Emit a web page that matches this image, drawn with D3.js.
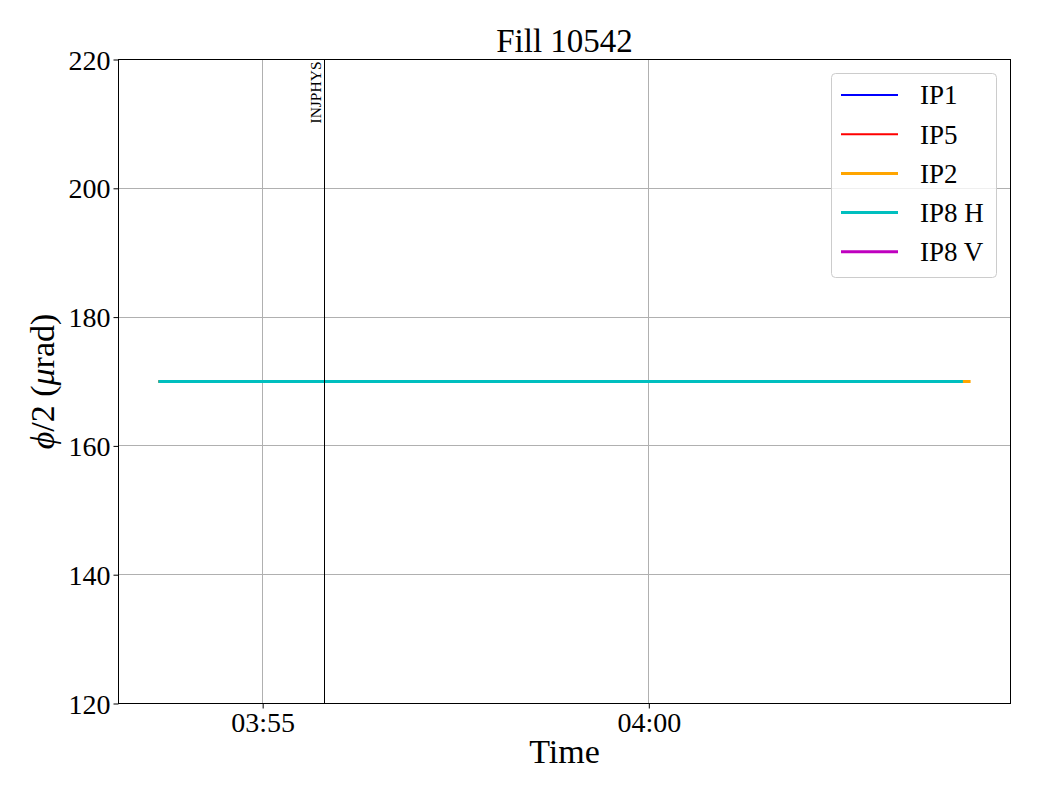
<!DOCTYPE html>
<html><head><meta charset="utf-8">
<script src="https://cdn.jsdelivr.net/npm/d3@7"></script>
<style>body{margin:0;background:#fff;} svg{font-family:"Liberation Serif","DejaVu Serif",serif;}</style>
</head><body>
<svg id="chart" width="1040" height="800"></svg>
<script>
const seriesNames = ["IP1", "IP5", "IP2", "IP8 H", "IP8 V"];
const seriesColors = ["#0000ff", "#ff0000", "#ffa500", "#00bfbf", "#bf00bf"];
const seriesWidths = [2, 2, 3, 3, 3];
const ip1Times = ["03:53:39", "03:58:00", "04:04:04"];
const ip1Values = [170, 170, 170];
const ip5Times = ["03:53:39", "03:58:00", "04:04:04"];
const ip5Values = [170, 170, 170];
const ip2Times = ["03:53:39", "03:58:00", "04:04:10"];
const ip2Values = [170, 170, 170];
const ip8hTimes = ["03:53:39", "03:58:00", "04:04:04"];
const ip8hValues = [170, 170, 170];
const ip8vTimes = [];
const ip8vValues = [];
const xDomain = ["03:53:08", "04:04:41"];
const yDomain = [120, 220];
const yTicks = [120, 140, 160, 180, 200, 220];
const xTicks = ["03:55:00", "04:00:00"];
const eventTime = "03:55:48";
const eventLabel = "INJPHYS";
const titleText = "Fill 10542";

const parse = s => d3.timeParse("%Y-%m-%d %H:%M:%S")("2024-01-01 " + s);
const svg = d3.select("#chart");
const m = {l:118.5, r:1010.5, t:59.5, b:703.5};
const x = d3.scaleTime().domain(xDomain.map(parse)).range([m.l, m.r]);
const y = d3.scaleLinear().domain(yDomain).range([m.b, m.t]);
const snap = v => Math.round(v - 0.5) + 0.5;

// grid
const g = svg.append("g");
g.selectAll(".gy").data(yTicks).enter().append("line")
  .attr("x1", m.l).attr("x2", m.r).attr("y1", d=>snap(y(d))).attr("y2", d=>snap(y(d)))
  .attr("stroke", "#b0b0b0").attr("stroke-width", 1);
g.selectAll(".gx").data(xTicks.map(parse)).enter().append("line")
  .attr("y1", m.t).attr("y2", m.b).attr("x1", d=>snap(x(d))).attr("x2", d=>snap(x(d)))
  .attr("stroke", "#b0b0b0").attr("stroke-width", 1);

// series
const series = [
  [ip1Times, ip1Values], [ip5Times, ip5Values], [ip2Times, ip2Values],
  [ip8hTimes, ip8hValues], [ip8vTimes, ip8vValues]
];
const line = d3.line().x(d=>x(d[0])).y(d=>y(d[1]));
const order = [0, 1, 4, 2, 3];
order.forEach(i => {
  const pts = series[i][0].map((t, k) => [parse(t), series[i][1][k]]);
  if (!pts.length) return;
  svg.append("path").datum(pts).attr("d", line).attr("fill", "none")
    .attr("stroke", seriesColors[i]).attr("stroke-width", seriesWidths[i]);
});

// event line
const ex = snap(x(parse(eventTime)));
svg.append("line").attr("x1", ex).attr("x2", ex).attr("y1", m.t).attr("y2", m.b)
  .attr("stroke", "#000").attr("stroke-width", 1);
svg.append("text").attr("transform", `translate(${ex-4},${m.t+2}) rotate(-90)`)
  .attr("text-anchor", "end").attr("font-size", 15.5).text(eventLabel);

// axes
const xAxis = d3.axisBottom(x).tickValues(xTicks.map(parse)).tickFormat(d3.timeFormat("%H:%M")).tickSizeOuter(0).tickSize(5);
const yAxis = d3.axisLeft(y).tickValues(yTicks).tickSizeOuter(0).tickSize(5);
const xa = svg.append("g").attr("transform", `translate(0,${m.b})`).call(xAxis);
const ya = svg.append("g").attr("transform", `translate(${m.l},0)`).call(yAxis);
[xa, ya].forEach(a => {
  a.select(".domain").remove();
  a.selectAll("text").attr("font-family", "Liberation Serif, serif").attr("font-size", 28).attr("fill", "#000");
  a.selectAll("line").attr("stroke", "#000").attr("stroke-width", 1);
});
xa.selectAll("text").attr("dy", "0.71em").attr("y", 9);
ya.selectAll("text").attr("x", -8).attr("dy", "0.34em");

// frame
svg.append("rect").attr("x", m.l).attr("y", m.t).attr("width", m.r-m.l).attr("height", m.b-m.t)
  .attr("fill", "none").attr("stroke", "#000").attr("stroke-width", 1);

// title and labels
svg.append("text").attr("x", (m.l+m.r)/2).attr("y", 52).attr("text-anchor", "middle")
  .attr("font-size", 33).text(titleText);
svg.append("text").attr("x", (m.l+m.r)/2).attr("y", 763).attr("text-anchor", "middle")
  .attr("font-size", 34).text("Time");
const yl = svg.append("text").attr("transform", `translate(54,${(m.t+m.b)/2}) rotate(-90)`)
  .attr("text-anchor", "middle").attr("font-size", 34);
yl.append("tspan").attr("font-style", "italic").text("ϕ");
yl.append("tspan").text("/2 (");
yl.append("tspan").attr("font-style", "italic").text("μ");
yl.append("tspan").text("rad)");

// legend
const lg = svg.append("g");
lg.append("rect").attr("x", 831.5).attr("y", 73.5).attr("width", 165).attr("height", 204)
  .attr("rx", 4).attr("fill", "#fff").attr("fill-opacity", 0.8).attr("stroke", "#cccccc").attr("stroke-width", 1);
seriesNames.forEach((n, i) => {
  const yy = 95 + i * 39.2;
  lg.append("line").attr("x1", 841).attr("x2", 898).attr("y1", yy).attr("y2", yy)
    .attr("stroke", seriesColors[i]).attr("stroke-width", seriesWidths[i]);
  lg.append("text").attr("x", 920).attr("y", yy).attr("dy", "0.35em").attr("font-size", 27).text(n);
});
</script>
</body></html>
